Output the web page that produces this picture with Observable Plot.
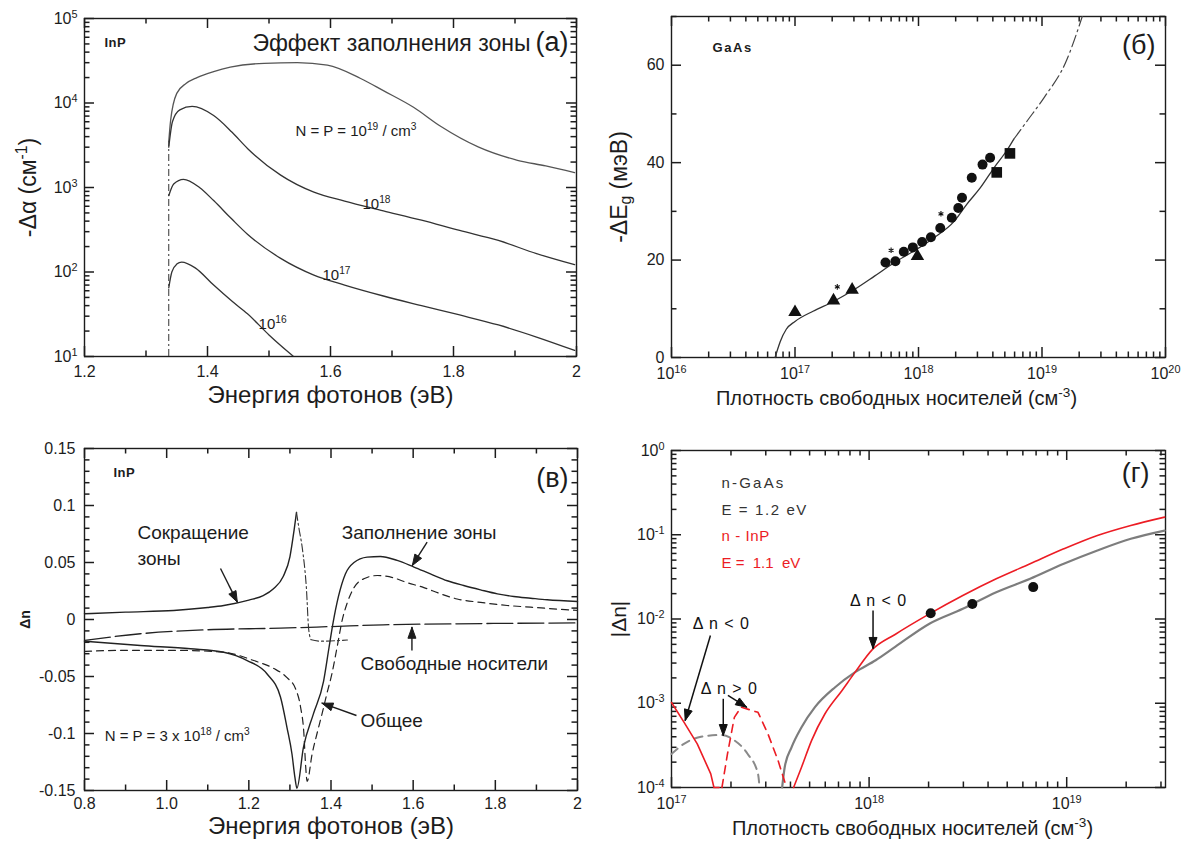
<!DOCTYPE html>
<html lang="ru">
<head>
<meta charset="utf-8">
<script src="https://cdn.jsdelivr.net/npm/d3@7"></script>
<script src="https://cdn.jsdelivr.net/npm/@observablehq/plot@0.6"></script>
<style>
html,body{margin:0;padding:0;background:#fff;}
#wrap{position:relative;width:1203px;height:845px;overflow:hidden;background:#fff;}
.panel{position:absolute;}
</style>
</head>
<body>
<div id="wrap">
<div class="panel" id="pa" style="left:0;top:0"></div>
<div class="panel" id="pb" style="left:600px;top:0"></div>
<div class="panel" id="pc" style="left:0;top:420px"></div>
<div class="panel" id="pd" style="left:600px;top:420px"></div>
</div>
<script>
// ================= DATA =================
// ---- Panel (а): InP, band-filling absorption change, -Δα (cm^-1) vs photon energy (eV)
const aEdge = [{x: 1.337, y1: 10, y2: 3.5e3}];
const aN19 = [[1.337,3.5e3],[1.34,6.2e3],[1.35,1.3e4],[1.365,1.7e4],[1.383,2.0e4],[1.41,2.35e4],[1.437,2.65e4],[1.492,2.95e4],[1.546,3.0e4],[1.595,2.8e4],[1.649,1.95e4],[1.686,1.4e4],[1.735,8.9e3],[1.779,5.3e3],[1.841,3.0e3],[1.904,2.1e3],[1.95,1.8e3],[1.997,1.5e3]];
const aN18 = [[1.337,3.0e3],[1.343,6.0e3],[1.355,8.3e3],[1.375,9.1e3],[1.41,7.1e3],[1.44,4.5e3],[1.465,2.9e3],[1.519,1.4e3],[1.573,880],[1.623,690],[1.686,530],[1.748,410],[1.81,310],[1.873,236],[1.935,165],[1.997,122]];
const aN17 = [[1.337,800],[1.345,1.1e3],[1.361,1.25e3],[1.387,1.0e3],[1.41,700],[1.44,420],[1.465,280],[1.519,145],[1.573,92],[1.623,70],[1.686,52],[1.748,40],[1.81,31],[1.873,23.6],[1.935,17],[1.997,11.8]];
const aN16 = [[1.337,65],[1.342,100],[1.35,124],[1.358,131],[1.38,112],[1.41,70],[1.44,45],[1.465,32],[1.5,18],[1.519,13.5],[1.54,10]];
const aXTicks = [1.2,1.4,1.6,1.8,2.0];
const aXTickLabels = ["1.2","1.4","1.6","1.8","2"];
const aYTicks = [1e1,1e2,1e3,1e4,1e5];
const aCurveLabels = [
  {x:1.543, y:4.6e3, t:"N = P = 10^{19} / cm^{3}"},
  {x:1.652, y:640, t:"10^{18}"},
  {x:1.587, y:92, t:"10^{17}"},
  {x:1.483, y:24, t:"10^{16}"}
];

// ---- Panel (б): GaAs, band-gap shrinkage -ΔEg (meV) vs carrier density (cm^-3)
const bCurve = [[6.9e16,0],[7.3e16,2],[7.6e16,3.3],[8.5e16,5.8],[1e17,7.4],[1.4e17,9.5],[2.05e17,11.5],[3e17,13.9],[4.4e17,16.7],[6.3e17,19.4],[9.1e17,21.8],[1.32e18,24.5],[1.95e18,28],[2.45e18,31.4],[3.16e18,34.8],[4.1e18,39],[5.25e18,42.7],[5.9e18,44.8]];
const bCurveExt = [[5.9e18,44.8],[7.6e18,48.6],[1.05e19,53.5],[1.55e19,60.5],[2.15e19,70.5]];
const bTriangles = [[1e17,9.3],[2.05e17,11.7],[2.9e17,13.9],[9.8e17,20.8]];
const bStars = [[2.2e17,14.5],[6e17,22],[1.52e18,29.5]];
const bCircles = [[5.4e17,19.5],[6.5e17,19.75],[7.6e17,21.7],[9e17,22.6],[1.07e18,23.7],[1.26e18,24.7],[1.5e18,26.6],[1.86e18,28.7],[2.1e18,30.7],[2.25e18,32.8],[2.7e18,36.9],[3.3e18,39.6],[3.8e18,41]];
const bSquares = [[4.3e18,38],[5.5e18,41.9]];
const bXTicks = [1e16,1e17,1e18,1e19,1e20];
const bYTicks = [0,20,40,60];
const bYMinor = [10,30,50,70];

// ---- Panel (в): InP, Δn vs photon energy, N=P=3e18
const cShrink = [[0.8,0.005],[0.9,0.0065],[1.017,0.0079],[1.1,0.0105],[1.139,0.0123],[1.2,0.017],[1.235,0.021],[1.26,0.027],[1.284,0.038],[1.3,0.055],[1.31,0.078],[1.316,0.094]];
const cShrinkTail = [[1.316,0.094],[1.322,0.08],[1.33,0.063],[1.34,0.028],[1.346,-0.0096],[1.352,-0.0178],[1.375,-0.019],[1.44,-0.018]];
const cFilling = [[0.8,-0.019],[0.936,-0.0228],[1.058,-0.0257],[1.139,-0.0287],[1.196,-0.036],[1.245,-0.048],[1.277,-0.068],[1.293,-0.095],[1.305,-0.118],[1.312,-0.138],[1.317,-0.148],[1.333,-0.112],[1.357,-0.083],[1.382,-0.054],[1.395,-0.025],[1.405,-0.003],[1.418,0.02],[1.435,0.04],[1.456,0.05],[1.488,0.0547],[1.52,0.0553],[1.561,0.0518],[1.602,0.046],[1.642,0.04],[1.683,0.034],[1.723,0.0298],[1.764,0.026],[1.805,0.0225],[1.845,0.0202],[1.886,0.0187],[1.926,0.0173],[2.0,0.0158]];
const cFree = [[0.8,-0.0184],[0.936,-0.0125],[1.099,-0.009],[1.277,-0.0076],[1.4,-0.0062],[1.527,-0.0047],[1.7,-0.0038],[1.85,-0.0033],[2.0,-0.003]];
const cTotal = [[0.8,-0.028],[0.9,-0.027],[1.017,-0.027],[1.139,-0.0287],[1.212,-0.036],[1.261,-0.043],[1.293,-0.051],[1.314,-0.061],[1.326,-0.077],[1.334,-0.1],[1.338,-0.127],[1.342,-0.142],[1.354,-0.118],[1.366,-0.1],[1.378,-0.083],[1.39,-0.065],[1.402,-0.048],[1.415,-0.024],[1.427,-0.001],[1.439,0.014],[1.456,0.028],[1.48,0.0357],[1.513,0.0386],[1.553,0.0365],[1.58,0.033],[1.626,0.028],[1.667,0.0225],[1.707,0.018],[1.764,0.015],[1.829,0.0123],[1.886,0.0108],[2.0,0.0079]];
const cXTicks = [0.8,1.0,1.2,1.4,1.6,1.8,2.0];
const cXTickLabels = ["0.8","1.0","1.2","1.4","1.6","1.8","2"];
const cYTicks = [-0.15,-0.1,-0.05,0,0.05,0.1,0.15];
const cYTickLabels = ["-0.15","-0.1","-0.05","0","0.05","0.1","0.15"];
const cLabels = [
  {x:0.929, y:0.0763, t:"Сокращение"},
  {x:0.929, y:0.053, t:"зоны"},
  {x:1.426, y:0.0763, t:"Заполнение зоны"},
  {x:1.472, y:-0.0386, t:"Свободные носители"},
  {x:1.472, y:-0.0886, t:"Общее"}
];
const cNote = [{x:0.849, y:-0.102, t:"N = P = 3 x 10^{18} / cm^{3}"}];
const cArrows = [
  {x1:1.131, y1:0.0447, x2:1.172, y2:0.0152},
  {x1:1.634, y1:0.0678, x2:1.598, y2:0.0474},
  {x1:1.597, y1:-0.0272, x2:1.597, y2:-0.0068},
  {x1:1.462, y1:-0.0842, x2:1.378, y2:-0.0734}
];

// ---- Panel (г): |Δn| vs carrier density
const dGaAs = [[3.63e17,1e-4],[3.74e17,1.74e-4],[4.05e17,3.0e-4],[4.55e17,5.2e-4],[5.32e17,9.0e-4],[6.73e17,1.55e-3],[8.5e17,2.34e-3],[1.08e18,3.24e-3],[1.36e18,4.7e-3],[2.02e18,8.8e-3],[2.98e18,1.32e-2],[4.4e18,2.08e-2],[6.53e18,3.0e-2],[9.66e18,4.52e-2],[1.43e19,6.5e-2],[2.11e19,8.95e-2],[3.13e19,0.112]];
const dGaAsDash = [[1e17,2.5e-4],[1.156e17,3.3e-4],[1.41e17,4.0e-4],[1.78e17,4.2e-4],[2.08e17,3.63e-4],[2.43e17,2.5e-4],[2.74e17,1.45e-4],[2.79e17,1e-4]];
const dInP = [[4.15e17,1e-4],[4.55e17,1.74e-4],[5.12e17,3.63e-4],[5.98e17,7.5e-4],[7.28e17,1.41e-3],[8.5e17,2.34e-3],[1.035e18,4.3e-3],[1.36e18,6.6e-3],[2.02e18,1.15e-2],[2.98e18,1.9e-2],[4.4e18,3.0e-2],[6.53e18,4.52e-2],[9.66e18,6.8e-2],[1.43e19,9.8e-2],[2.11e19,0.129],[3.13e19,0.162]];
const dInPLeft = [[1e17,1.02e-3],[1.156e17,5.96e-4],[1.35e17,3.3e-4],[1.58e17,1.45e-4],[1.64e17,1e-4],[1.74e17,1e-4]];
const dInPDash = [[1.8e17,1e-4],[1.92e17,2.5e-4],[2.08e17,6.8e-4],[2.25e17,9.0e-4],[2.74e17,7.8e-4],[3.08e17,4.3e-4],[3.46e17,2.1e-4],[3.82e17,1e-4]];
const dDots = [[2.05e18,0.0117],[3.33e18,0.0151],[6.77e18,0.0239]];
const dXTicks = [1e17,1e18,1e19];
const dYTicks = [1e-4,1e-3,1e-2,1e-1,1];
const dLabels = [
  {x:1.28e17, y:8.85e-3, t:"Δ n < 0"},
  {x:1.406e17, y:1.5e-3, t:"Δ n > 0"},
  {x:8.0e17, y:0.0166, t:"Δ n < 0"}
];
const dArrows = [
  {x1:1.574e17, y1:6.37e-3, x2:1.173e17, y2:6.24e-4},
  {x1:1.828e17, y1:1.13e-3, x2:1.828e17, y2:4.14e-4},
  {x1:1.93e17, y1:1.24e-3, x2:2.4e17, y2:8.97e-4},
  {x1:1.047e18, y1:0.0126, x2:1.047e18, y2:4.47e-3}
];

// ================= HELPERS =================
const FONT = '"Liberation Sans", Arial, Helvetica, sans-serif';
const INK = "#1c1c1c";
const pow10 = d => `10^{${Math.round(Math.log10(d))}}`;
const logMinor = (e0, e1, max = Infinity) => d3.range(e0, e1).flatMap(e => d3.range(2, 10).map(k => k * Math.pow(10, e))).filter(v => v <= max);
const XY = {x: d => d[0], y: d => d[1]};
const style = {fontFamily: FONT, fontSize: "15px", color: INK, background: "white", overflow: "visible"};
const txt = (label, opts) => Plot.text([label], {text: d => d, fill: INK, ...opts});

function geom(w, h, l, r, t, b, xType, xDom, yType, yDom) {
  const mk = tp => tp === "log" ? d3.scaleLog() : d3.scaleLinear();
  return {w, h, l, r, t, b, xType, xDom, yType, yDom,
    xs: mk(xType).domain(xDom).range([l, w - r]),
    ys: mk(yType).domain(yDom).range([h - b, t])};
}
function plotOpts(G) {
  return {width: G.w, height: G.h, marginLeft: G.l, marginRight: G.r, marginTop: G.t, marginBottom: G.b,
    x: {type: G.xType, domain: G.xDom, axis: null}, y: {type: G.yType, domain: G.yDom, axis: null}, style};
}
// frame + inward ticks on all four sides (rules with explicit end points)
function box(G, xMaj, xMin, yMaj, yMin) {
  const {xs, ys, w, h, l, r, t, b} = G, L = 10, m = 5.5;
  const yB = ys.invert(h - b), yT = ys.invert(t), xL = xs.invert(l), xR = xs.invert(w - r);
  const xt = [], yt = [];
  [[xMaj, L, 1.6], [xMin, m, 1.3]].forEach(([vals, len, sw]) => {
    const yb2 = ys.invert(h - b - len), yt2 = ys.invert(t + len);
    vals.forEach(v => { xt.push({x: v, y1: yB, y2: yb2, sw}); xt.push({x: v, y1: yT, y2: yt2, sw}); });
  });
  [[yMaj, L, 1.6], [yMin, m, 1.3]].forEach(([vals, len, sw]) => {
    const xl2 = xs.invert(l + len), xr2 = xs.invert(w - r - len);
    vals.forEach(v => { yt.push({y: v, x1: xL, x2: xl2, sw}); yt.push({y: v, x1: xR, x2: xr2, sw}); });
  });
  return [
    Plot.frame({stroke: INK, strokeWidth: 1.4, fill: "none"}),
    Plot.ruleX(xt, {x: "x", y1: "y1", y2: "y2", stroke: INK, strokeWidth: 1.5}),
    Plot.ruleY(yt, {y: "y", x1: "x1", x2: "x2", stroke: INK, strokeWidth: 1.5})
  ];
}
function arrows(G, arr, color, sw) {
  const {xs, ys} = G, HL = 11, HW = 4;
  const heads = arr.flatMap((a, i) => {
    const X1 = xs(a.x1), Y1 = ys(a.y1), X2 = xs(a.x2), Y2 = ys(a.y2);
    const ang = Math.atan2(Y2 - Y1, X2 - X1), c = Math.cos(ang), s = Math.sin(ang);
    const bx = X2 - HL * c, by = Y2 - HL * s;
    return [[X2, Y2], [bx - HW * s, by + HW * c], [bx + HW * s, by - HW * c], [X2, Y2]]
      .map(([px, py]) => ({id: i, x: xs.invert(px), y: ys.invert(py)}));
  });
  return [
    Plot.link(arr, {x1: "x1", y1: "y1", x2: "x2", y2: "y2", stroke: color, strokeWidth: sw}),
    Plot.line(heads, {x: "x", y: "y", z: "id", fill: color, stroke: color, strokeWidth: 1, curve: "linear"})
  ];
}
const xLabels = (vals, fmt, dy) => Plot.text(vals, {x: d => d, frameAnchor: "bottom", dy, text: fmt, textAnchor: "middle", lineAnchor: "middle", fontSize: 16, fill: INK});
const yLabels = (vals, fmt, dx) => Plot.text(vals, {y: d => d, frameAnchor: "left", dx: -dx, text: fmt, textAnchor: "end", lineAnchor: "middle", fontSize: 16, fill: INK});
const TITLES = new Set();
const yTitle = (label, dx, size, extra = {}) => (TITLES.add(label), txt(label, {frameAnchor: "left", dx, rotate: -90, textAnchor: "middle", lineAnchor: "middle", fontSize: size, ...extra}));
const xTitle = (label, dx, dy, size) => (TITLES.add(label), txt(label, {frameAnchor: "bottom", dx, dy, textAnchor: "middle", lineAnchor: "middle", fontSize: size}));

const SPACED = {"n-GaAs": 2.2, "E = 1.2 eV": 1.6, "n - InP": 0.6, "GaAs": 1.6, "InP": 0.5, "Δ n < 0": 1, "Δ n > 0": 1};
function richify(svg) {
  const ns = "http://www.w3.org/2000/svg";
  svg.querySelectorAll("text").forEach(t => {
    const s = t.textContent;
    if (SPACED[s] != null) t.setAttribute("letter-spacing", SPACED[s]);
    if (/[\^_]\{/.test(s)) {
      while (t.firstChild) t.removeChild(t.firstChild);
      const re = /([\^_])\{([^}]*)\}/g;
      let last = 0, m;
      const add = (str, kind) => {
        const sp = document.createElementNS(ns, "tspan");
        sp.textContent = str;
        if (kind) {
          sp.setAttribute("font-size", "68%");
          sp.setAttribute("baseline-shift", kind === "^" ? "58%" : "-28%");
        }
        t.appendChild(sp);
      };
      while ((m = re.exec(s))) {
        if (m.index > last) add(s.slice(last, m.index));
        add(m[2], m[1]);
        last = re.lastIndex;
      }
      if (last < s.length) add(s.slice(last));
    }
    if (TITLES.has(s)) {
      const bb = t.getBBox();
      const cur = +(t.getAttribute("x") || 0);
      t.setAttribute("x", cur - (bb.x + bb.width / 2));
    }
  });
}

// ================= PANEL (а) =================
const A = geom(600, 420, 84, 24, 18, 64, "linear", [1.2, 2.0], "log", [10, 1e5]);
const pa = Plot.plot({
  ...plotOpts(A),
  marks: [
    ...box(A, aXTicks, d3.range(1.3, 2.0, 0.2), aYTicks, logMinor(1, 5)),
    xLabels(aXTicks, (d, i) => aXTickLabels[i], 15),
    yLabels(aYTicks, pow10, 7),
    Plot.ruleX(aEdge, {x: "x", y1: "y1", y2: "y2", stroke: "#333", strokeWidth: 1, strokeDasharray: "7,3,2,3"}),
    ...[aN19, aN18, aN17, aN16].map((s, i) => Plot.line(s, {...XY, stroke: i === 0 ? "#555" : "#333", strokeWidth: 1.3, curve: "monotone-x", clip: true})),
    Plot.text(aCurveLabels, {x: "x", y: "y", text: "t", textAnchor: "start", fontSize: 15, fill: INK}),
    txt("InP", {frameAnchor: "top-left", dx: 20, dy: 24, textAnchor: "start", lineAnchor: "middle", fontSize: 13, fontWeight: "bold"}),
    txt("Эффект заполнения зоны", {frameAnchor: "top-right", dx: -46, dy: 25, textAnchor: "end", lineAnchor: "middle", fontSize: 23}),
    txt("(а)", {frameAnchor: "top-right", dx: -8, dy: 24, textAnchor: "end", lineAnchor: "middle", fontSize: 27}),
    xTitle("Энергия фотонов (эВ)", 0, 39, 24),
    yTitle("-Δα (см^{-1})", -56, 23)
  ]
});

// ================= PANEL (б) =================
const B = geom(603, 420, 71, 38, 16, 63, "log", [1e16, 1e20], "linear", [0, 70]);
const pb = Plot.plot({
  ...plotOpts(B),
  marks: [
    ...box(B, bXTicks, logMinor(16, 20), bYTicks, bYMinor),
    xLabels(bXTicks, pow10, 16),
    yLabels(bYTicks, d => String(d), 7),
    Plot.line(bCurve, {...XY, stroke: "#333", strokeWidth: 1.3, curve: "monotone-x"}),
    Plot.line(bCurveExt, {...XY, stroke: "#444", strokeWidth: 1.2, curve: "monotone-x", strokeDasharray: "12,4,2,4", clip: true}),
    Plot.dot(bCircles, {...XY, r: 5, fill: "#111", symbol: "circle"}),
    Plot.dot(bTriangles, {...XY, r: 5, fill: "#111", symbol: "triangle"}),
    Plot.dot(bSquares, {...XY, r: 6, fill: "#111", symbol: "square"}),
    Plot.dot(bStars, {...XY, r: 2.6, stroke: "#111", strokeWidth: 1.1, symbol: "asterisk"}),
    txt("GaAs", {frameAnchor: "top-left", dx: 41, dy: 31, textAnchor: "start", lineAnchor: "middle", fontSize: 13, fontWeight: "bold"}),
    txt("(б)", {frameAnchor: "top-right", dx: -10, dy: 29, textAnchor: "end", lineAnchor: "middle", fontSize: 27}),
    xTitle("Плотность свободных носителей (см^{-3})", -22, 41, 20),
    yTitle("-ΔE_{g} (мэВ)", -52, 23)
  ]
});

// ================= PANEL (в) =================
const C = geom(600, 425, 84, 23, 28, 55, "linear", [0.8, 2.0], "linear", [-0.15, 0.15]);
const pc = Plot.plot({
  ...plotOpts(C),
  marks: [
    ...box(C, cXTicks, d3.range(0.9, 2.0, 0.2), cYTicks, d3.range(-14, 15).filter(k => k % 5 !== 0).map(k => k / 100)),
    xLabels(cXTicks, (d, i) => cXTickLabels[i], 13),
    yLabels(cYTicks, (d, i) => cYTickLabels[i], 9),
    Plot.line(cFree, {...XY, stroke: "#222", strokeWidth: 1.3, curve: "monotone-x", strokeDasharray: "26,5"}),
    Plot.line(cTotal, {...XY, stroke: "#222", strokeWidth: 1.2, curve: "monotone-x", strokeDasharray: "7,5"}),
    Plot.line(cShrink, {...XY, stroke: "#222", strokeWidth: 1.4, curve: "monotone-x"}),
    Plot.line(cShrinkTail, {...XY, stroke: "#333", strokeWidth: 1.1, curve: "monotone-x", strokeDasharray: "8,3,2,3"}),
    Plot.line(cFilling, {...XY, stroke: "#222", strokeWidth: 1.4, curve: "monotone-x"}),
    ...arrows(C, cArrows, INK, 1.4),
    Plot.text(cLabels, {x: "x", y: "y", text: "t", textAnchor: "start", fontSize: 19, fill: INK}),
    Plot.text(cNote, {x: "x", y: "y", text: "t", textAnchor: "start", fontSize: 15, fill: INK}),
    txt("InP", {frameAnchor: "top-left", dx: 29, dy: 24, textAnchor: "start", lineAnchor: "middle", fontSize: 13, fontWeight: "bold"}),
    txt("(в)", {frameAnchor: "top-right", dx: -9, dy: 30, textAnchor: "end", lineAnchor: "middle", fontSize: 27}),
    xTitle("Энергия фотонов (эВ)", 0, 36, 24),
    yTitle("Δn", -59, 14, {fontWeight: "bold"})
  ]
});

// ================= PANEL (г) =================
const RED = "#ec1c24";
const D = geom(603, 425, 71, 38, 30, 58, "log", [1e17, Math.pow(10, 19.5)], "log", [1e-4, 1]);
const pd = Plot.plot({
  ...plotOpts(D),
  marks: [
    ...box(D, dXTicks, logMinor(17, 20, Math.pow(10, 19.5)), dYTicks, logMinor(-4, 0)),
    xLabels(dXTicks, pow10, 16),
    yLabels(dYTicks, pow10, 7),
    Plot.line(dGaAsDash, {...XY, stroke: "#8a8a8a", strokeWidth: 2, curve: "monotone-x", strokeDasharray: "8,6"}),
    Plot.line(dGaAs, {...XY, stroke: "#7d7d7d", strokeWidth: 2.2, curve: "monotone-x"}),
    Plot.line(dInPLeft, {...XY, stroke: RED, strokeWidth: 1.6}),
    Plot.line(dInPDash, {...XY, stroke: RED, strokeWidth: 1.6, strokeDasharray: "8,6"}),
    Plot.line(dInP, {...XY, stroke: RED, strokeWidth: 1.6, curve: "monotone-x"}),
    Plot.dot(dDots, {...XY, r: 5, fill: "#111"}),
    ...arrows(D, dArrows, "#111", 1.5),
    Plot.text(dLabels, {x: "x", y: "y", text: "t", textAnchor: "start", fontSize: 16, fill: "#111"}),
    txt("n-GaAs", {frameAnchor: "top-left", dx: 50, dy: 33, textAnchor: "start", lineAnchor: "middle", fontSize: 15, fill: "#333"}),
    txt("E = 1.2 eV", {frameAnchor: "top-left", dx: 50, dy: 60, textAnchor: "start", lineAnchor: "middle", fontSize: 15, fill: "#333"}),
    txt("n - InP", {frameAnchor: "top-left", dx: 50, dy: 86, textAnchor: "start", lineAnchor: "middle", fontSize: 15, fill: RED}),
    txt("E =  1.1  eV", {frameAnchor: "top-left", dx: 50, dy: 113, textAnchor: "start", lineAnchor: "middle", fontSize: 15, fill: RED}),
    txt("(г)", {frameAnchor: "top-right", dx: -16, dy: 23, textAnchor: "end", lineAnchor: "middle", fontSize: 27}),
    xTitle("Плотность свободных носителей (см^{-3})", -6, 41, 20),
    yTitle("|Δn|", -52, 21)
  ]
});

[["pa", pa], ["pb", pb], ["pc", pc], ["pd", pd]].forEach(([id, svg]) => {
  document.getElementById(id).appendChild(svg);
  richify(svg);
});
</script>
</body>
</html>
